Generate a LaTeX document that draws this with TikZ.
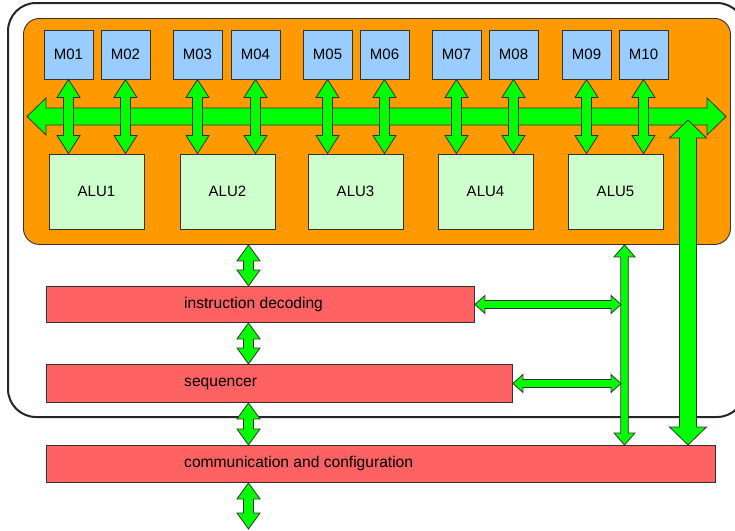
\documentclass[tikz,border=0pt]{standalone}
\usepackage{fontspec}
\setmainfont{Liberation Sans}
\usetikzlibrary{calc}

\definecolor{coreorange}{HTML}{FF9900}
\definecolor{memblue}{HTML}{99CCFF}
\definecolor{alugreen}{HTML}{CCFFCC}
\definecolor{ctlred}{HTML}{FF6262}
\definecolor{busgreen}{HTML}{00FF00}
\definecolor{linegray}{HTML}{333333}

\tikzset{
  boxline/.style={draw=linegray, line width=0.9pt},
  membox/.style={boxline, fill=memblue, minimum width=49pt, minimum height=49pt,
    inner sep=0pt, font=\fontsize{15}{18}\selectfont},
  alubox/.style={boxline, fill=alugreen, minimum width=95pt, minimum height=75pt,
    inner sep=0pt, font=\fontsize{15}{18}\selectfont},
  ctlbox/.style={boxline, fill=ctlred, inner sep=0pt, anchor=north west},
  ctllabel/.style={anchor=west, inner sep=0pt, font=\fontsize{15.6}{18}\selectfont},
  fatarrow/.style={draw=linegray, line width=0.8pt, fill=busgreen, line join=miter},
}

% vertical double arrow: top, bottom, half shaft, half head, head length
\newcommand{\vbus}[5]{%
  \draw[fatarrow] let \p1=(#1), \p2=(#2) in
    (\x1,\y1) -- (\x1+#4,\y1-#5) -- (\x1+#3,\y1-#5) -- (\x1+#3,\y2+#5)
    -- (\x1+#4,\y2+#5) -- (\x1,\y2) -- (\x1-#4,\y2+#5) -- (\x1-#3,\y2+#5)
    -- (\x1-#3,\y1-#5) -- (\x1-#4,\y1-#5) -- cycle;}
% horizontal double arrow: left, right, half shaft, half head, head length
\newcommand{\hbus}[5]{%
  \draw[fatarrow] let \p1=(#1), \p2=(#2) in
    (\x1,\y1) -- (\x1+#5,\y1+#4) -- (\x1+#5,\y1+#3) -- (\x2-#5,\y1+#3)
    -- (\x2-#5,\y1+#4) -- (\x2,\y1) -- (\x2-#5,\y1-#4) -- (\x2-#5,\y1-#3)
    -- (\x1+#5,\y1-#3) -- (\x1+#5,\y1-#4) -- cycle;}

\begin{document}
\begin{tikzpicture}[x=1pt, y=-1pt]
  \useasboundingbox (0,0) rectangle (735,530);
  \clip (0,0) rectangle (735,530);

  % enclosing processor outline and the ALU core
  \draw[draw=black!85, line width=2pt, rounded corners=28pt] (8,3) rectangle (745,417);
  \node[boxline, fill=coreorange, rounded corners=16pt, minimum width=707pt,
        minimum height=226pt, anchor=north west, inner sep=0pt] (core) at (23,18) {};

  % memories
  \node[membox] (M01) at (68.5,54.5)  {M01};
  \node[membox] (M02) at (125.5,54.5) {M02};
  \node[membox] (M03) at (197.5,54.5) {M03};
  \node[membox] (M04) at (255.5,54.5) {M04};
  \node[membox] (M05) at (327.5,54.5) {M05};
  \node[membox] (M06) at (384.5,54.5) {M06};
  \node[membox] (M07) at (456.5,54.5) {M07};
  \node[membox] (M08) at (513.5,54.5) {M08};
  \node[membox] (M09) at (586.5,54.5) {M09};
  \node[membox] (M10) at (643.5,54.5) {M10};

  % arithmetic units
  \node[alubox] (ALU1) at (96.5,191.5)  {ALU1};
  \node[alubox] (ALU2) at (227.5,191.5) {ALU2};
  \node[alubox] (ALU3) at (355.5,191.5) {ALU3};
  \node[alubox] (ALU4) at (485.5,191.5) {ALU4};
  \node[alubox] (ALU5) at (615.5,191.5) {ALU5};

  % control blocks
  \node[ctlbox, minimum width=428pt, minimum height=36pt] (ID)   at (46,286) {};
  \node[ctlbox, minimum width=466pt, minimum height=38pt] (SEQ)  at (46,364) {};
  \node[ctlbox, minimum width=669pt, minimum height=37pt] (COMM) at (46,445) {};
  \node[ctllabel] (IDtext)   at ([xshift=138pt]ID.west)   {instruction decoding};
  \node[ctllabel] (SEQtext)  at ([xshift=138pt]SEQ.west)  {sequencer};
  \node[ctllabel] (COMMtext) at ([xshift=138pt]COMM.west) {communication and configuration};

  % free ends and guide lines of the connectors
  \coordinate (busL) at (27,116.5);
  \coordinate (busR) at (726,116.5);
  \coordinate (spine) at (248.5,0);
  \coordinate (extbot) at (248.5,529);
  \coordinate (ctlx) at (624.5,0);
  \coordinate (ctlleft) at (621,0);
  \coordinate (cfgtop) at (688,120);

  % shared data bus
  \hbus{busL}{busR}{8.5pt}{18.5pt}{19pt}

  % memory <-> ALU links
  \foreach \m/\a in {M01/ALU1, M02/ALU1, M03/ALU2, M04/ALU2, M05/ALU3,
                     M06/ALU3, M07/ALU4, M08/ALU4, M09/ALU5, M10/ALU5}
    {\vbus{\m.south}{\m.south |- \a.north}{5pt}{11.5pt}{18pt}}

  % configuration path to the bus
  \vbus{cfgtop}{cfgtop |- COMM.north}{8.5pt}{18.5pt}{18pt}

  % control spine
  \vbus{spine |- core.south}{spine |- ID.north}{5pt}{11.5pt}{16pt}
  \vbus{spine |- ID.south}{spine |- SEQ.north}{5pt}{11.5pt}{16pt}
  \vbus{spine |- SEQ.south}{spine |- COMM.north}{5pt}{11.5pt}{16pt}
  \vbus{spine |- COMM.south}{extbot}{5pt}{11.5pt}{16pt}

  % side control channel
  \vbus{ctlx |- core.south}{ctlx |- COMM.north}{3.75pt}{10.5pt}{12pt}
  \hbus{ID.east}{ctlleft |- ID.east}{4pt}{9pt}{10pt}
  \hbus{SEQ.east}{ctlleft |- SEQ.east}{4pt}{9pt}{10pt}
\end{tikzpicture}
\end{document}
